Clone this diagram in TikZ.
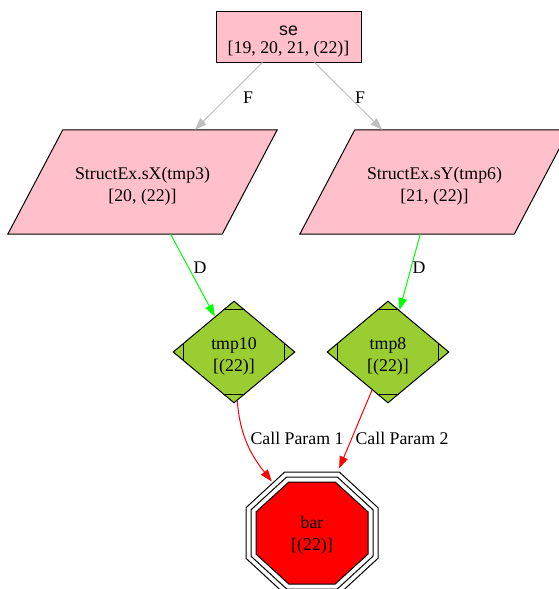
\documentclass[tikz,border=0pt]{standalone}
\usepackage{fontspec}
\setmainfont{Liberation Serif}
\newfontfamily\sansf{Liberation Sans}
\usetikzlibrary{shapes.geometric,arrows.meta,calc}
\definecolor{pinkc}{RGB}{255,192,203}
\definecolor{ygreen}{RGB}{154,205,50}
\definecolor{grayc}{RGB}{192,192,192}
\definecolor{limec}{RGB}{0,255,0}
\definecolor{redc}{RGB}{255,0,0}
\begin{document}
\begin{tikzpicture}[x=1pt,y=-1pt,
  every node/.style={font=\fontsize{17.8}{20}\selectfont, align=center, inner sep=0pt},
  boxnode/.style={draw, fill=pinkc, line width=1pt, minimum width=145, minimum height=51},
  paranode/.style={minimum width=214, minimum height=104},
  parafill/.style={draw, fill=pinkc, line width=1pt},
  diamnode/.style={draw, fill=ygreen, line width=1pt, diamond, minimum width=122, minimum height=102},
  octnode/.style={regular polygon, regular polygon sides=8, minimum size=140},
  tipstyle/.style={-{Triangle[length=12pt,width=8.5pt]}},
  gedge/.style={tipstyle, draw=grayc, line width=1pt},
  dedge/.style={tipstyle, draw=limec, line width=1pt},
  cedge/.style={tipstyle, draw=redc, line width=1pt},
  octline/.style={line width=1pt}]
\useasboundingbox (0,0) rectangle (559,589);
\clip (0,0) rectangle (559,589);

% shapes
\node[boxnode] (se) at (288.5,36.5) {};
\node[paranode] (sX) at (142.5,182) {};
\node[paranode] (sY) at (434.5,182) {};
\foreach \n in {sX,sY} {
  \draw[parafill] ($(\n.north west)+(27.5,0)$) -- ($(\n.north east)+(27.5,0)$)
     -- ($(\n.south east)+(-27.5,0)$) -- ($(\n.south west)+(-27.5,0)$) -- cycle;
}
\node[diamnode] (tmp10) at (234,352) {};
\node[diamnode] (tmp8) at (388,352) {};

\foreach \n in {tmp10,tmp8} {
  \draw[line width=1pt] ($(\n.north)!0.18!(\n.west)$) -- ($(\n.north)!0.18!(\n.east)$);
  \draw[line width=1pt] ($(\n.south)!0.18!(\n.west)$) -- ($(\n.south)!0.18!(\n.east)$);
  \draw[line width=1pt] ($(\n.west)!0.18!(\n.north)$) -- ($(\n.west)!0.18!(\n.south)$);
  \draw[line width=1pt] ($(\n.east)!0.18!(\n.north)$) -- ($(\n.east)!0.18!(\n.south)$);
}

\begin{scope}[shift={(312,533)}]
  \draw[octline] (-66,-25.3) -- (-27.3,-61) -- (27.3,-61) -- (66,-25.3) -- (66,25.3) -- (27.3,61) -- (-27.3,61) -- (-66,25.3) -- cycle;
  \draw[octline] (-61,-23.2) -- (-25.3,-56) -- (25.3,-56) -- (61,-23.2) -- (61,23.2) -- (25.3,56) -- (-25.3,56) -- (-61,23.2) -- cycle;
  \draw[octline, fill=redc] (-56,-21.1) -- (-23.2,-51) -- (23.2,-51) -- (56,-21.1) -- (56,21.1) -- (23.2,51) -- (-23.2,51) -- (-56,21.1) -- cycle;
\end{scope}
\node[octnode] (bar) at (312,533) {};

% texts
\node (se-t) at (288.5,42) {{\sansf se}\\[-2pt]{}[19, 20, 21, (22)]};
\node (sX-t) at (142.5,186) {StructEx.sX(tmp3)\\[2pt]{}[20, (22)]};
\node (sY-t) at (434.5,186) {StructEx.sY(tmp6)\\[2pt]{}[21, (22)]};
\node (tmp10-t) at (234,356.5) {tmp10\\[2pt]{}[(22)]};
\node (tmp8-t) at (388,356.5) {tmp8\\[2pt]{}[(22)]};
\node (bar-t) at (312,535.5) {bar\\[2pt]{}[(22)]};

% edges
\draw[gedge] (se) -- (sX);
\draw[gedge] (se) -- (sY);
\draw[dedge] (sX) -- (tmp10);
\draw[dedge] (sY) -- (tmp8);
\draw[cedge] (tmp10) .. controls (240,440) and (255,460) .. (bar);
\draw[cedge] (tmp8) -- (bar);

\node (lf1) at (248,98) {F};
\node (lf2) at (360,98) {F};
\node (ld1) at (200,268) {D};
\node (ld2) at (419,268) {D};
\node (lc1) at (297,438) {Call Param 1};
\node (lc2) at (402,438) {Call Param 2};
\end{tikzpicture}
\end{document}
